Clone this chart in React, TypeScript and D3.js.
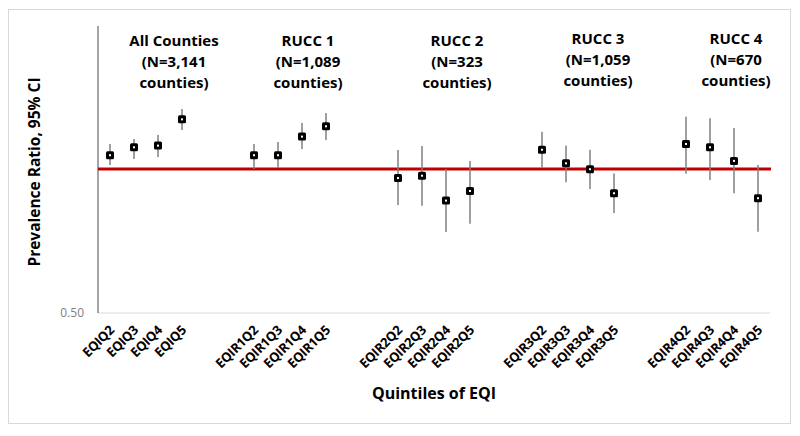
import * as d3 from 'd3';
import { useEffect, useRef } from 'react';

// estimates
const groupTitles = [
  ['All Counties', '(N=3,141', 'counties)'],
  ['RUCC 1', '(N=1,089', 'counties)'],
  ['RUCC 2', '(N=323', 'counties)'],
  ['RUCC 3', '(N=1,059', 'counties)'],
  ['RUCC 4', '(N=670', 'counties)'],
];
const categories = [
  ['EQIQ2', 'EQIQ3', 'EQIQ4', 'EQIQ5'],
  ['EQIR1Q2', 'EQIR1Q3', 'EQIR1Q4', 'EQIR1Q5'],
  ['EQIR2Q2', 'EQIR2Q3', 'EQIR2Q4', 'EQIR2Q5'],
  ['EQIR3Q2', 'EQIR3Q3', 'EQIR3Q4', 'EQIR3Q5'],
  ['EQIR4Q2', 'EQIR4Q3', 'EQIR4Q4', 'EQIR4Q5'],
];
const ratios = [
  [1.069, 1.111, 1.12, 1.272],
  [1.069, 1.069, 1.17, 1.23],
  [0.957, 0.968, 0.858, 0.899],
  [1.098, 1.028, 0.999, 0.889],
  [1.129, 1.111, 1.04, 0.868],
];
const lower = [
  [1.02, 1.05, 1.06, 1.208],
  [1.0, 1.005, 1.102, 1.151],
  [0.84, 0.837, 0.737, 0.767],
  [1.006, 0.938, 0.908, 0.808],
  [0.977, 0.948, 0.889, 0.738],
];
const upper = [
  [1.129, 1.157, 1.179, 1.338],
  [1.129, 1.14, 1.25, 1.312],
  [1.096, 1.118, 1.0, 1.04],
  [1.198, 1.12, 1.098, 0.979],
  [1.289, 1.279, 1.22, 1.02],
];
const yTicks = [0.5];
const refValue = 1;

const W = 800;
const H = 436;

const App = () => {
  const ref = useRef<SVGSVGElement>(null);

  useEffect(() => {
    const svg = d3.select(ref.current);
    svg.selectAll('*').remove();

    const left = 98, right = 770, top = 26, bottom = 312;

    // slot list: two empty slots between groups
    const slots: string[] = [];
    categories.forEach((c, i) => {
      slots.push(...c);
      if (i < categories.length - 1) slots.push('gap' + i + 'a', 'gap' + i + 'b');
    });

    const x = d3.scaleBand().domain(slots).range([left, right]);
    const y = d3.scaleLog().base(2).domain([0.5, 2]).range([bottom, top]);
    const cx = (c: string) => (x(c) as number) + x.bandwidth() / 2;

    // outer frame
    svg.append('rect')
      .attr('x', 8.5).attr('y', 9.5).attr('width', 782).attr('height', 414)
      .attr('fill', '#fff').attr('stroke', '#d9d9d9');

    // x baseline
    svg.append('line')
      .attr('x1', left).attr('x2', right).attr('y1', bottom + 1).attr('y2', bottom + 1)
      .attr('stroke', '#d9d9d9').attr('stroke-width', 1);

    // y axis
    svg.append('line')
      .attr('x1', left).attr('x2', left).attr('y1', top).attr('y2', bottom + 1)
      .attr('stroke', '#868686').attr('stroke-width', 1.5);

    svg.append('g').selectAll('text').data(yTicks).enter().append('text')
      .attr('x', left - 14).attr('y', (d) => y(d) + 1)
      .attr('dy', '0.35em').attr('text-anchor', 'end')
      .attr('font-family', 'Open Sans, sans-serif').attr('font-size', 12)
      .attr('fill', '#808080')
      .text((d) => d.toFixed(2));

    // reference line
    svg.append('line')
      .attr('x1', left).attr('x2', right + 1).attr('y1', y(refValue)).attr('y2', y(refValue))
      .attr('stroke', '#c00000').attr('stroke-width', 3);

    const pts = categories.flatMap((c, gi) =>
      c.map((name, i) => ({ name, v: ratios[gi][i], lo: lower[gi][i], hi: upper[gi][i] }))
    );

    const g = svg.append('g');
    g.selectAll('line.ci').data(pts).enter().append('line')
      .attr('class', 'ci')
      .attr('x1', (d) => cx(d.name)).attr('x2', (d) => cx(d.name))
      .attr('y1', (d) => y(d.hi)).attr('y2', (d) => y(d.lo))
      .attr('stroke', '#7f7f7f').attr('stroke-width', 1.5);

    g.selectAll('rect.pt').data(pts).enter().append('rect')
      .attr('class', 'pt')
      .attr('x', (d) => cx(d.name) - 4).attr('y', (d) => y(d.v) - 4)
      .attr('width', 8).attr('height', 8).attr('rx', 1.5)
      .attr('fill', '#000');

    g.selectAll('rect.dot').data(pts).enter().append('rect')
      .attr('class', 'dot')
      .attr('x', (d) => cx(d.name) - 1).attr('y', (d) => y(d.v) - 1)
      .attr('width', 2).attr('height', 2)
      .attr('fill', '#fff');

    // rotated category labels
    svg.append('g').selectAll('text').data(pts).enter().append('text')
      .attr('transform', (d) => `translate(${cx(d.name) + 5},${bottom + 19}) rotate(-45)`)
      .attr('text-anchor', 'end')
      .attr('font-family', 'Open Sans, sans-serif').attr('font-weight', 700)
      .attr('font-size', 13).attr('letter-spacing', -0.3).attr('fill', '#000')
      .text((d) => d.name);

    // group titles
    const titleShift = [28, 18, 23, 20, 14];
    groupTitles.forEach((lines, gi) => {
      const c = categories[gi];
      const mid = (cx(c[0]) + cx(c[c.length - 1])) / 2 + titleShift[gi];
      const t = svg.append('text')
        .attr('x', mid).attr('y', gi < 3 ? 46 : 44)
        .attr('text-anchor', 'middle')
        .attr('font-family', 'Open Sans, sans-serif').attr('font-weight', 700)
        .attr('font-size', 15).attr('fill', '#000');
      lines.forEach((l, i) => {
        t.append('tspan').attr('x', mid).attr('dy', i === 0 ? 0 : 21).text(l);
      });
    });

    // axis titles
    svg.append('text')
      .attr('transform', `translate(40,172) rotate(-90)`)
      .attr('text-anchor', 'middle')
      .attr('font-family', 'Open Sans, sans-serif').attr('font-weight', 700)
      .attr('font-size', 15.5).attr('fill', '#000')
      .text('Prevalence Ratio, 95% CI');

    svg.append('text')
      .attr('x', 434).attr('y', 399)
      .attr('text-anchor', 'middle')
      .attr('font-family', 'Open Sans, sans-serif').attr('font-weight', 700)
      .attr('font-size', 16).attr('fill', '#000')
      .text('Quintiles of EQI');
  }, []);

  return (
    <svg
      ref={ref}
      width={W}
      height={H}
      style={{ position: 'absolute', left: 0, top: 0, background: '#fff' }}
    />
  );
};

export default App;
